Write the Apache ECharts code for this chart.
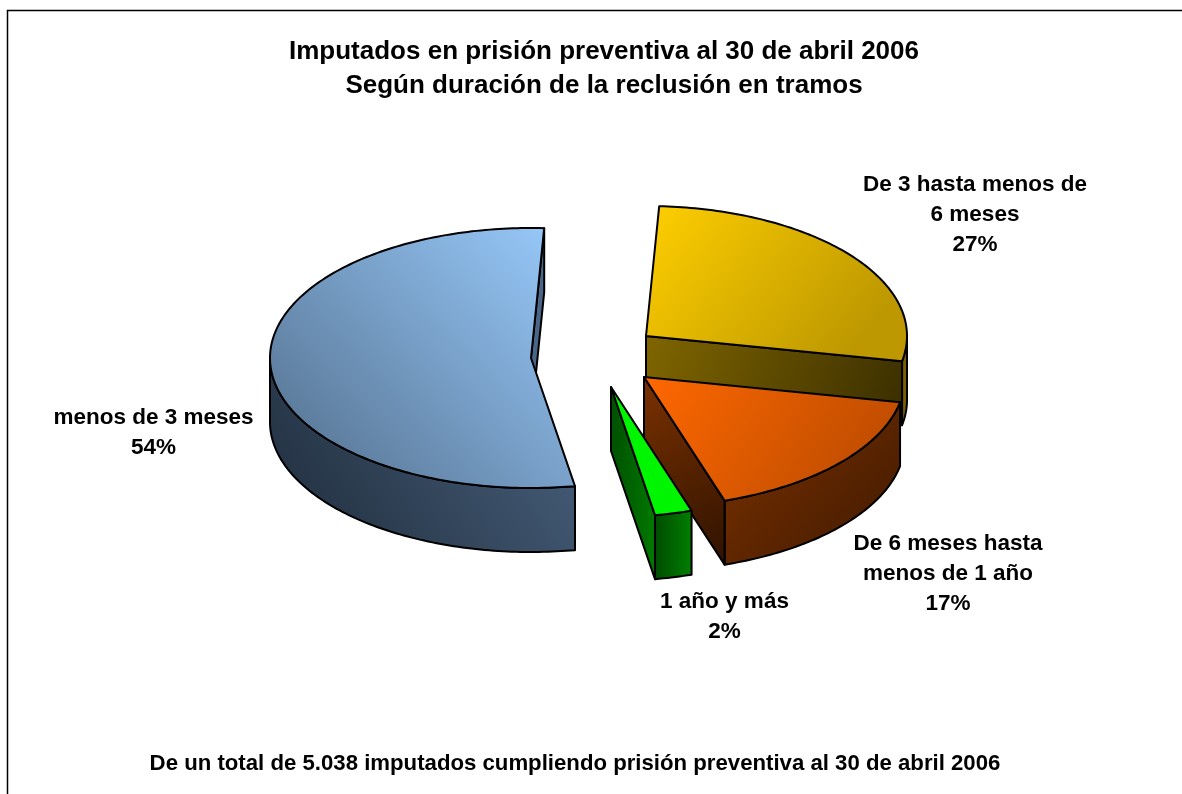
<!DOCTYPE html>
<html><head><meta charset="utf-8">
<style>html,body{margin:0;padding:0;background:#fff}#c{width:1182px;height:794px}</style>
<script src="https://cdn.jsdelivr.net/npm/echarts@6/dist/echarts.min.js"></script>
</head><body><div id="c"></div>
<script>
// ---- data ----
const categories = ['menos de 3 meses', 'De 3 hasta menos de\n6 meses', 'De 6 meses hasta\nmenos de 1 año', '1 año y más'];
const sharePercent = [53.5, 27.3, 16.9, 2.3];
const titleLines = 'Imputados en prisión preventiva al 30 de abril 2006\nSegún duración de la reclusión en tramos';
const footnote = 'De un total de 5.038 imputados cumpliendo prisión preventiva al 30 de abril 2006';

// ---- layout & style ----
const FONT = '"Liberation Sans", Arial, sans-serif';
const startAngle = 170.3, pieCentre = [620, 370], rx = 261, ry = 130, depth = 64;
const explode = [[-89, -12], [26, -34], [24, 7], [-9, 17]];
const labelAt = [[153.5, 433], [975, 215], [948, 574], [724.5, 617]];
const lg = (x, y, x2, y2, a, b) => ({type:'linear', x, y, x2, y2, colorStops:[{offset:0,color:a},{offset:1,color:b}]});
const skins = [
  {top:lg(1,0,0.1,1,'#9accfe','#557290'), rim:lg(1,0,0,1,'#4a6380','#1f2c3b'), cut:'#4a6588'},
  {top:lg(0,0,0.75,1,'#ffcf00','#bd9800'), rim:'#7a6000', cut:lg(0,0,1,1,'#806600','#3a2e00')},
  {top:lg(0,0,0.75,1,'#ff6800','#c24e00'), rim:lg(0,0,1,1,'#7c3200','#3f1900'), cut:lg(0,0,1,1,'#7c3200','#2e1200')},
  {top:'#00f500', rim:lg(0,0,1,0,'#004a00','#008000'), cut:lg(0,0,1,0,'#004f00','#007a00')}
];

const rad = d => d * Math.PI / 180;
const rimPoint = (c, a) => [c[0] + rx * Math.sin(rad(a)), c[1] - ry * Math.cos(rad(a))];
const arc = (c, a0, a1) => {
  const pts = [], n = Math.max(2, Math.ceil(Math.abs(a1 - a0)));
  for (let i = 0; i <= n; i++) pts.push(rimPoint(c, a0 + (a1 - a0) * i / n));
  return pts;
};
const down = p => [p[0], p[1] + depth];
const stroke = {stroke:'#000', lineWidth:2, lineJoin:'round'};
const poly = (points, fill) => ({type:'polygon', shape:{points}, style:Object.assign({fill}, stroke)});

function renderSlice(params, api) {
  const i = params.dataIndex, value = api.value(0), s = skins[i];
  let a0 = startAngle;
  for (let k = 0; k < i; k++) a0 += sharePercent[k] * 3.6;
  a0 = a0 % 360;
  const a1 = a0 + value * 3.6;
  const c = [pieCentre[0] + explode[i][0], pieCentre[1] + explode[i][1]];
  const kids = [];
  // outer wall: only the part of the rim that faces the viewer
  const wallFrom = Math.max(a0, 90);
  const wallTo = Math.min(a1, 270);
  if (wallTo > wallFrom) {
    const t = arc(c, wallFrom, wallTo);
    kids.push(poly(t.concat(t.slice().reverse().map(down)), s.rim));
  }
  // radial wall at the closing edge of the slice
  const end = rimPoint(c, a1);
  kids.push(poly([c, end, down(end), down(c)], s.cut));
  // top face
  kids.push(poly([c].concat(arc(c, a0, a1)), s.top));
  kids.push({type:'text', z2:10, style:{
    x:labelAt[i][0], y:labelAt[i][1], text:categories[i] + '\n' + Math.round(value) + '%',
    align:'center', verticalAlign:'middle', fill:'#000',
    font:'bold 22.5px ' + FONT, lineHeight:30
  }});
  return {type:'group', children:kids};
}

const chart = echarts.init(document.getElementById('c'), null, {renderer:'canvas'});
chart.setOption({
  animation:false,
  backgroundColor:'#fff',
  title:[
    {text:titleLines, left:599, top:30, textAlign:'center',
     textStyle:{fontFamily:FONT, fontWeight:'bold', fontSize:26, lineHeight:34, color:'#000'}},
    {text:footnote, left:570, top:748, textAlign:'center',
     textStyle:{fontFamily:FONT, fontWeight:'bold', fontSize:22.2, color:'#000'}}
  ],
  graphic:[{type:'polyline', silent:true, shape:{points:[[7.5,794],[7.5,10.5],[1182,10.5]]},
            style:{stroke:'#000', lineWidth:1.5, fill:null}}],
  series:[{type:'custom', coordinateSystem:'none', renderItem:renderSlice,
           silent:true, data:sharePercent.map(v => [v])}]
});
</script></body></html>
